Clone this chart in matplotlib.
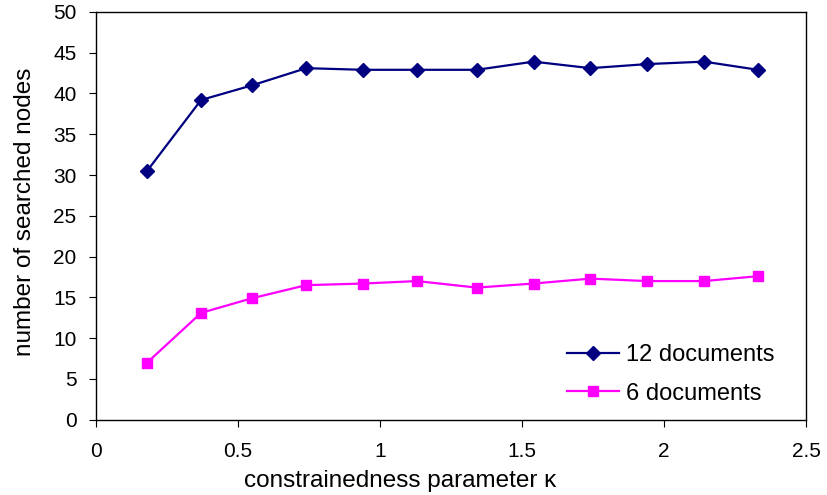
import matplotlib
matplotlib.use('Agg')
import matplotlib.pyplot as plt

plt.rcParams['font.family'] = ['Liberation Sans', 'DejaVu Sans']

kappa = [0.18, 0.37, 0.55, 0.74, 0.94, 1.13, 1.34, 1.54, 1.74, 1.94, 2.14, 2.33]
docs12 = [30.5, 39.2, 41.0, 43.1, 42.9, 42.9, 42.9, 43.9, 43.1, 43.6, 43.9, 42.9]
docs6 = [7.0, 13.1, 14.9, 16.5, 16.7, 17.0, 16.2, 16.7, 17.3, 17.0, 17.0, 17.6]

fig = plt.figure(figsize=(8.27, 4.95), dpi=100)
ax = fig.add_axes([0.116, 0.152, 0.859, 0.824])

ax.plot(kappa, docs12, color='#000080', marker='D', markersize=7, linewidth=1.6, label='12 documents')
ax.plot(kappa, docs6, color='#FF00FF', marker='s', markersize=7.5, linewidth=1.6, label='6 documents')

ax.set_xlim(0, 2.5)
ax.set_ylim(0, 50)
ax.set_xticks([0, 0.5, 1, 1.5, 2, 2.5])
ax.set_xticklabels(['0', '0.5', '1', '1.5', '2', '2.5'])
ax.set_yticks(range(0, 51, 5))
ax.tick_params(direction='out', length=5, labelsize=15, colors='black')
ax.tick_params(axis='x', pad=11)
ax.tick_params(axis='y', pad=9)
for s in ax.spines.values():
    s.set_color('black')
    s.set_linewidth(1)

ax.set_xlabel('constrainedness parameter κ', fontsize=17.5)
ax.set_ylabel('number of searched nodes', fontsize=17.5)
ax.xaxis.set_label_coords(0.428, -0.122)
ax.yaxis.set_label_coords(-0.084, 0.51)

ax.legend(loc='lower right', frameon=False, fontsize=17, bbox_to_anchor=(0.985, -0.015),
          handlelength=2.2, handletextpad=0.3, labelspacing=0.7)

fig.savefig('out.png', dpi=100)
